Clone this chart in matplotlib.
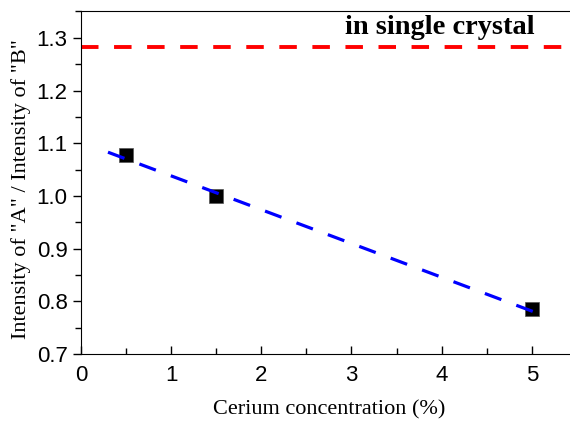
import numpy as np
from matplotlib import pyplot as plt
from matplotlib.ticker import MultipleLocator

# measured data points
conc = [0.5, 1.5, 5.0]
ratio = [1.077, 0.999, 0.785]

# linear fit line
fit_x = [0.3, 5.15]
fit_y = [1.083, 0.772]

single_crystal = 1.282

fig = plt.figure(figsize=(5.7, 4.21), dpi=100)
ax = fig.add_axes([0.142, 0.159, 0.87, 0.815])

ax.plot(conc, ratio, 's', color='black', markersize=9.5,
        markeredgecolor='#555555', markeredgewidth=0.5, zorder=2)
ax.plot(fit_x, fit_y, color='blue', lw=2.3, dashes=(5.5, 5), zorder=3)
ax.axhline(single_crystal, color='red', lw=2.8, dashes=(4.5, 4))

ax.text(3.98, 1.319, 'in single crystal', family='Liberation Serif',
        fontweight='bold', fontsize=20.5, ha='center', va='center')

ax.set_xlim(0, 5.5)
ax.set_ylim(0.7, 1.351)
ax.xaxis.set_major_locator(MultipleLocator(1))
ax.xaxis.set_minor_locator(MultipleLocator(0.5))
ax.yaxis.set_major_locator(MultipleLocator(0.1))
ax.yaxis.set_minor_locator(MultipleLocator(0.05))
ax.tick_params(axis='x', which='both', direction='in', top=False, pad=8)
ax.tick_params(axis='y', which='both', direction='out', right=False)
ax.tick_params(which='major', length=6, width=1)
ax.tick_params(which='minor', length=4, width=1)
ax.tick_params(labelsize=16)
for lab in ax.get_xticklabels() + ax.get_yticklabels():
    lab.set_family('Liberation Sans')
ax.yaxis.set_major_formatter(plt.FormatStrFormatter('%.1f'))
ax.spines['right'].set_visible(False)

ax.set_xlabel('Cerium concentration (%)', family='Liberation Serif', fontsize=16, labelpad=10)
ax.set_ylabel('Intensity of "A" / Intensity of "B"', family='Liberation Serif', fontsize=16, labelpad=4)
ax.yaxis.set_label_coords(-0.1, 0.48)

plt.savefig('out.png', dpi=100)
